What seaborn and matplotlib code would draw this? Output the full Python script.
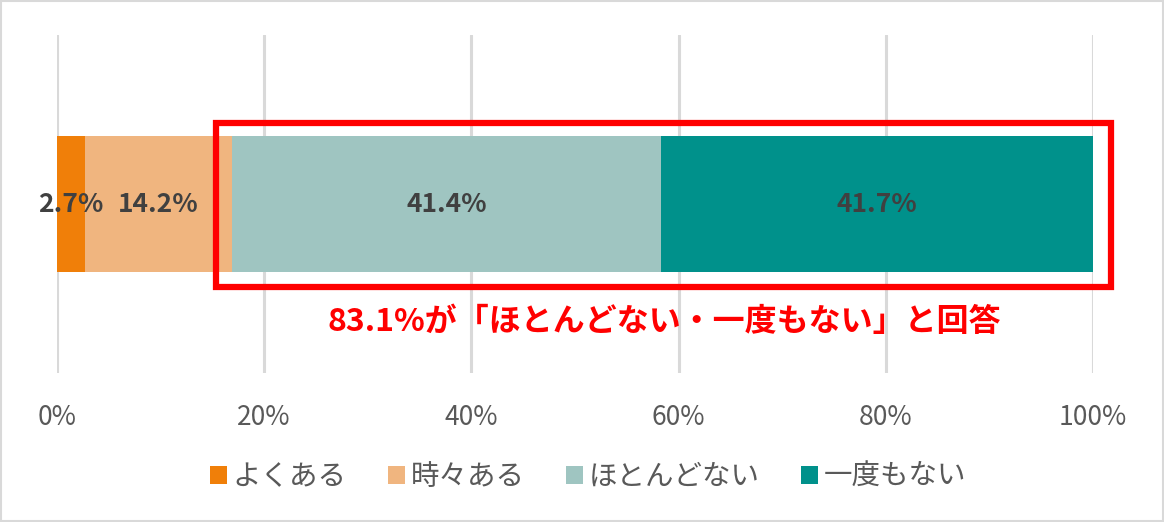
import numpy as np
import pandas as pd
import matplotlib
matplotlib.use("Agg")
import matplotlib.pyplot as plt
from matplotlib.patches import Rectangle, Patch
import seaborn as sns

categories = ["よくある", "時々ある", "ほとんどない", "一度もない"]
values = [2.7, 14.2, 41.4, 41.7]
colors = ["#F07F09", "#F0B57F", "#9FC5C1", "#00918B"]
ticks = [0, 20, 40, 60, 80, 100]
tick_labels = ["0%", "20%", "40%", "60%", "80%", "100%"]
note = "83.1%が「ほとんどない・一度もない」と回答"

sns.set_theme(style="white")
plt.rcParams["font.family"] = ["Noto Sans CJK JP", "DejaVu Sans"]

cum = np.cumsum(values)
starts = cum - np.array(values)
df = pd.DataFrame({"category": categories, "cum": cum, "row": ["r"] * 4})

fig = plt.figure(figsize=(11.64, 5.22), dpi=100)
ax = fig.add_axes([0.049, 0.2854, 0.890, 0.6475])

order = categories[::-1]
pal = dict(zip(categories, colors))
sns.barplot(data=df, x="cum", y="row", hue="category", hue_order=order,
            palette=pal, dodge=False, width=0.40, orient="h", ax=ax,
            legend=False, saturation=1, linewidth=0)

ax.set_xlim(0, 100)
ax.set_ylim(0.5, -0.5)
ax.set_xticks(ticks)
ax.set_xticklabels(tick_labels)
ax.set_yticks([])
ax.set_xlabel("")
ax.set_ylabel("")
ax.tick_params(axis="x", length=0, pad=22, labelsize=19, labelcolor="#595959")
for s in ax.spines.values():
    s.set_visible(False)
ax.grid(axis="x", color="#D9D9D9", linewidth=2.2)
ax.set_axisbelow(True)

for st, v in zip(starts, values):
    ax.text(st + v / 2, 0, f"{v:.1f}%", ha="center", va="center",
            fontsize=19, color="#404040", fontweight="bold")

rect = Rectangle((0.1533, 0.255), 0.8645, 0.485, transform=ax.transAxes,
                 fill=False, edgecolor="#FF0000", linewidth=4.5, clip_on=False,
                 zorder=5)
ax.add_patch(rect)
ax.text(0.586, 0.151, note, transform=ax.transAxes, ha="center", va="center",
        fontsize=23, fontweight="bold", color="#FF0000")

handles = [Patch(facecolor=c, edgecolor="none") for c in colors]
fig.legend(handles, categories, loc="center", bbox_to_anchor=(0.505, 0.086),
           ncol=4, frameon=False, handlelength=0.6,
           handleheight=0.6, handletextpad=0.2, columnspacing=1.45,
           labelcolor="#595959", prop={"size": 20.5})

border = Rectangle((0.001, 0.002), 0.998, 0.996, transform=fig.transFigure,
                   fill=False, edgecolor="#D9D9D9", linewidth=1.5)
fig.patches.append(border)

fig.savefig("out.png", dpi=100)
